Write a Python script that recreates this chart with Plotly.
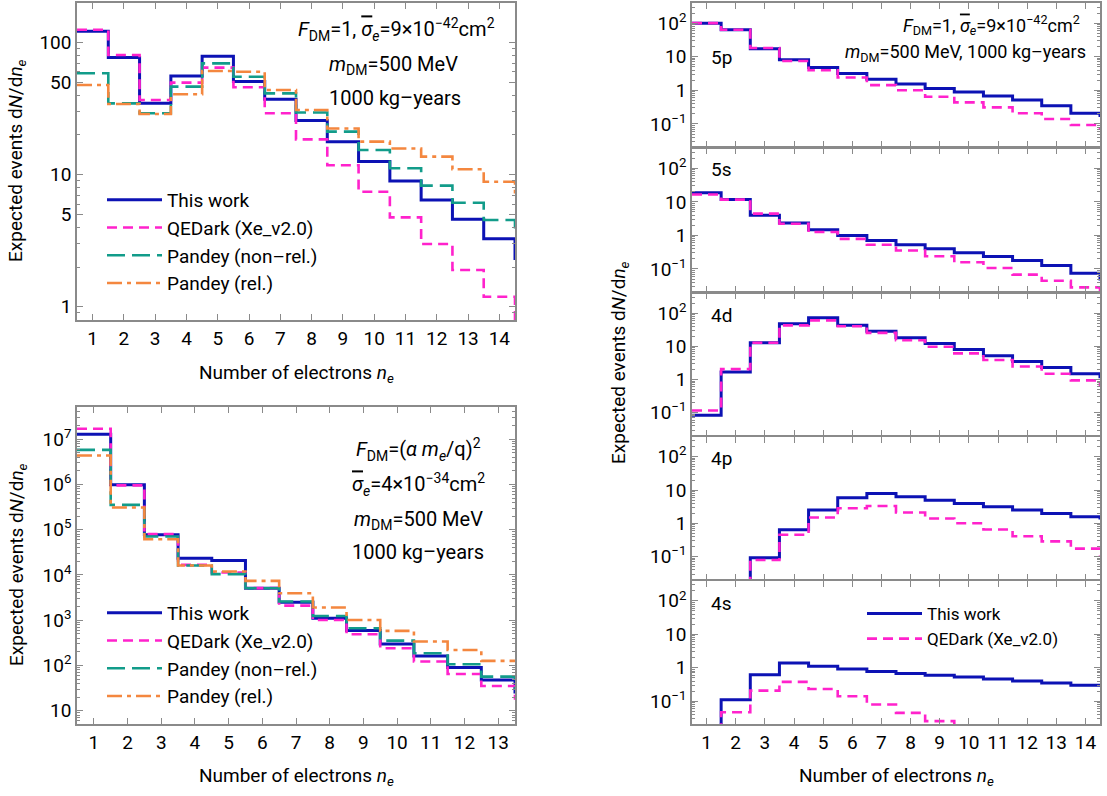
import plotly.graph_objects as go

# ---------------- data ----------------
# Top-left: F_DM = 1 (bins n_e = 1..15; the 15th lies just beyond the axis)
ne_a = list(range(1, 16))
a_this = [122, 77, 34.7, 55.9, 79, 50.7, 37.2, 25.7, 17.8, 12.6, 8.96, 6.43, 4.61, 3.27, 2.26]
a_qed = [125, 80.7, 36.8, 49.8, 64.7, 45.9, 29.2, 18.5, 11.8, 7.43, 4.75, 2.99, 1.90, 1.19, 0.77]
a_pnr = [58.6, 34.7, 29.2, 46.4, 69.7, 55.2, 41.3, 29.6, 21.2, 15.4, 11.2, 8.26, 6.14, 4.54, 3.5]
a_prel = [47.8, 34.3, 28.8, 40.7, 61.0, 60.2, 43.8, 30.9, 22.4, 17.8, 15.8, 13.7, 11.0, 8.85, 7.2]

# Bottom-left: F_DM = (alpha m_e/q)^2 (bins n_e = 1..14)
ne_b = list(range(1, 15))
b_this = [1.29e7, 9.8e5, 7.7e4, 2.34e4, 2.08e4, 5.1e3, 2.49e3, 1.10e3, 589, 299, 162, 89.5, 47.9, 24]
b_qed = [1.69e7, 9.5e5, 7.95e4, 1.67e4, 1.13e4, 5.1e3, 2.1e3, 1.01e3, 489, 240, 122, 64.8, 35.2, 17.5]
b_pnr = [5.8e6, 3.53e5, 7.05e4, 1.61e4, 1.04e4, 5.08e3, 2.58e3, 1.24e3, 661, 354, 186, 106, 56.6, 29]
b_prel = [4.36e6, 3.08e5, 6.15e4, 1.61e4, 1.19e4, 7.38e3, 3.94e3, 1.9e3, 1.01e3, 579, 337, 220, 126, 120]

# Right column: shell-resolved spectra (bins n_e = 1..15)
ne_c = list(range(1, 16))
shells = ["5p", "5s", "4d", "4p", "4s"]
shell_this = {
    "5p": [100, 63.5, 17.3, 8.2, 4.76, 3.16, 2.15, 1.53, 1.14, 0.885, 0.673, 0.513, 0.348, 0.207, 0.16],
    "5s": [18.6, 11.7, 3.98, 2.34, 1.48, 1.0, 0.708, 0.525, 0.398, 0.302, 0.234, 0.178, 0.126, 0.074, 0.045],
    "4d": [0.083, 1.67, 12.8, 48.1, 72.6, 42.9, 28.5, 18.0, 12.2, 8.08, 5.24, 3.47, 2.30, 1.49, 1.1],
    "4p": [1e-4, 1e-3, 0.093, 0.646, 2.52, 5.85, 7.83, 6.25, 4.97, 3.97, 3.17, 2.52, 1.97, 1.57, 1.3],
    "4s": [1e-3, 0.11, 0.62, 1.39, 1.11, 0.92, 0.77, 0.67, 0.60, 0.53, 0.464, 0.404, 0.352, 0.30, 0.27],
}
shell_qed = {
    "5p": [100, 63.5, 18.2, 7.5, 3.96, 2.41, 1.43, 1.01, 0.645, 0.437, 0.311, 0.207, 0.14, 0.093, 0.066],
    "5s": [16.6, 11.7, 4.47, 2.24, 1.26, 0.79, 0.525, 0.355, 0.24, 0.158, 0.107, 0.0676, 0.0447, 0.0282, 0.018],
    "4d": [0.117, 2.05, 12.8, 42.9, 60.5, 40.1, 25.4, 15.3, 9.7, 6.14, 3.89, 2.46, 1.49, 0.94, 0.6],
    "4p": [1e-4, 1e-3, 0.079, 0.452, 1.50, 2.83, 3.31, 2.11, 1.40, 1.0, 0.65, 0.41, 0.287, 0.174, 0.1],
    "4s": [1e-3, 0.047, 0.208, 0.378, 0.233, 0.141, 0.080, 0.045, 0.0254, 1e-3, 1e-3, 1e-3, 1e-3, 1e-3, 1e-3],
}

names = ["This work", "QEDark (Xe_v2.0)", "Pandey (non\u2013rel.)", "Pandey (rel.)"]

# ---------------- style ----------------
W, H = 1107, 796
FONT = "Roboto"
C_THIS, C_QED, C_PNR, C_PREL = "#0c12b4", "#ff22cc", "#129c8a", "#f4873f"
styles = [
    dict(color=C_THIS, width=3),
    dict(color=C_QED, width=2.6, dash="10px,6px"),
    dict(color=C_PNR, width=2.6, dash="18px,7px"),
    dict(color=C_PREL, width=2.6, dash="15px,5px,4px,5px"),
]
FRAME = "#8a8a8a"
LW = 1.5


def fx(p):
    return p / W


def fy(p):
    return 1 - p / H


def edges(ns):
    return [n - 0.5 for n in ns]


fig = go.Figure()


def add_steps(ns, vals, st, name, xa, ya, legend, show):
    fig.add_trace(go.Scatter(
        x=edges(ns), y=vals, mode="lines", line=dict(shape="hv", **st),
        name=name, xaxis=xa, yaxis=ya, showlegend=show,
        legend=legend, hoverinfo="skip"))


for vals, st, nm in zip([a_this, a_qed, a_pnr, a_prel], styles, names):
    add_steps(ne_a, vals, st, nm, "x", "y", "legend", True)
for vals, st, nm in zip([b_this, b_qed, b_pnr, b_prel], styles, names):
    add_steps(ne_b, vals, st, nm, "x2", "y2", "legend2", True)
for i, sh in enumerate(shells):
    xa, ya = "x%d" % (i + 3), "y%d" % (i + 3)
    last = sh == "4s"
    add_steps(ne_c, shell_this[sh], styles[0], names[0], xa, ya, "legend3", last)
    add_steps(ne_c, shell_qed[sh], styles[1], names[1], xa, ya, "legend3", last)


def minor_vals(lo, hi, skip=()):
    out = []
    for e in range(lo, hi + 1):
        for d in range(2, 10):
            v = d * 10 ** e
            if v not in skip:
                out.append(v)
    return out


base = dict(showline=True, linecolor=FRAME, linewidth=LW, mirror="ticks",
            ticks="inside", ticklen=6, tickwidth=1.2, tickcolor=FRAME,
            showgrid=False, zeroline=False,
            tickfont=dict(family=FONT, size=19, color="black"))
minor_style = dict(ticks="inside", ticklen=3, tickcolor=FRAME, tickwidth=1)

L0, L1 = 77, 515
R0, R1 = 692, 1100

fig.update_layout(
    xaxis=dict(base, domain=[fx(L0), fx(L1)], range=[0.5, 14.5], anchor="y",
               tickvals=list(range(1, 15))),
    yaxis=dict(base, domain=[fy(320), fy(3)], type="log", range=[-0.10, 2.30], anchor="x",
               tickvals=[1, 5, 10, 50, 100], ticktext=["1", "5", "10", "50", "100"],
               minor=dict(minor_style, tickvals=minor_vals(-1, 2, skip=(5, 50)))),
    xaxis2=dict(base, domain=[fx(L0), fx(L1)], range=[0.5, 13.5], anchor="y2",
                tickvals=list(range(1, 14))),
    yaxis2=dict(base, domain=[fy(724), fy(407)], type="log", range=[0.706, 7.71], anchor="x2",
                tickvals=[10 ** k for k in range(1, 8)],
                ticktext=["10"] + ["10<sup>%d</sup>" % k for k in range(2, 8)],
                minor=dict(minor_style, tickvals=minor_vals(0, 7))),
)

# panel boundaries (px from top); a small gap lets neighbouring frame lines coincide
panel_px = [3, 147.5, 292.5, 436, 580, 724]
for i in range(5):
    xa = "xaxis%d" % (i + 3)
    ya = "yaxis%d" % (i + 3)
    top = panel_px[i] + (LW / 2 if i > 0 else 0)
    bot = panel_px[i + 1] - (LW / 2 if i < 4 else 0)
    fig.update_layout(**{
        xa: dict(base, domain=[fx(R0), fx(R1)], range=[0.5, 14.5], anchor="y%d" % (i + 3),
                 tickvals=list(range(1, 15)), showticklabels=(i == 4)),
        ya: dict(base, domain=[fy(bot), fy(top)], type="log", range=[-1.68, 2.6],
                 anchor="x%d" % (i + 3),
                 tickvals=[0.1, 1, 10, 100],
                 ticktext=["10<sup>\u22121</sup>", "1", "10", "10<sup>2</sup>"],
                 minor=dict(minor_style, tickvals=minor_vals(-2, 2))),
    })

ann = []


def text(s, x, y, size=19, xanchor="center", angle=0):
    ann.append(dict(text=s, x=fx(x), y=fy(y), xref="paper", yref="paper",
                    showarrow=False, xanchor=xanchor, yanchor="middle", textangle=angle,
                    font=dict(family=FONT, size=size, color="black")))


ytitle = "Expected events d<i>N</i>/d<i>n</i><sub><i>e</i></sub>"
xtitle = "Number of electrons <i>n</i><sub><i>e</i></sub>"
sig = "<i><span style=\"text-decoration:overline\">\u03c3</span></i><sub><i>e</i></sub>"
fdm = "<i>F</i><sub>DM</sub>"
mdm = "<i>m</i><sub>DM</sub>"

text(ytitle, 17, 161, angle=-90)
text(ytitle, 17, 565, angle=-90)
text(ytitle, 619, 363, angle=-90)
text(xtitle, 296, 373)
text(xtitle, 296, 776)
text(xtitle, 896, 776)

text(fdm + "=1, " + sig + "=9\u00d710<sup>\u221242</sup>cm<sup>2</sup>", 497, 30, size=20, xanchor="right")
text(mdm + "=500 MeV", 393, 65, size=20)
text("1000 kg\u2013years", 395, 98, size=20)

text(fdm + "=(<i>\u03b1 m</i><sub><i>e</i></sub>/q)<sup>2</sup>", 418, 450, size=20)
text(sig + "=4\u00d710<sup>\u221234</sup>cm<sup>2</sup>", 418, 485, size=20)
text(mdm + "=500 MeV", 418, 520, size=20)
text("1000 kg\u2013years", 418, 552, size=20)

text(fdm + "=1, " + sig + "=9\u00d710<sup>\u221242</sup>cm<sup>2</sup>", 1082, 25, size=18, xanchor="right")
text(mdm + "=500 MeV, 1000 kg\u2013years", 1088, 53, size=18, xanchor="right")

for lab, yy in zip(shells, [57, 170, 315, 458, 603]):
    text(lab, 709, yy, xanchor="left")

leg = dict(bgcolor="rgba(0,0,0,0)", borderwidth=0, xanchor="left", yanchor="top",
           tracegroupgap=0, itemwidth=55)

fig.update_layout(
    width=W, height=H, margin=dict(l=0, r=0, t=0, b=0),
    paper_bgcolor="white", plot_bgcolor="white", template="none",
    font=dict(family=FONT, size=19, color="black"),
    annotations=ann,
    legend=dict(leg, x=fx(102), y=fy(181), font=dict(family=FONT, size=19)),
    legend2=dict(leg, x=fx(102), y=fy(594), font=dict(family=FONT, size=19)),
    legend3=dict(leg, x=fx(862), y=fy(596), font=dict(family=FONT, size=17)),
)

fig.write_html("out.html", config={"displayModeBar": False},
               post_script="document.body.style.margin='0px';")
